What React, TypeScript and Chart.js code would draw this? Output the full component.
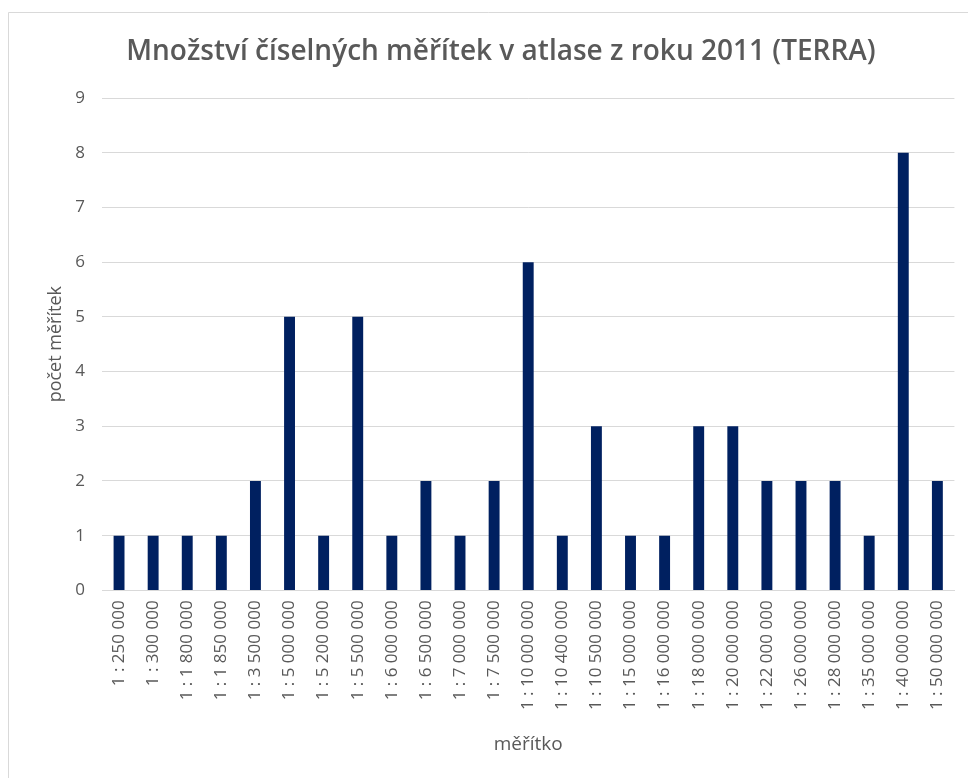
import React, { useEffect, useRef } from "react";
import { Chart, registerables } from "chart.js";

Chart.register(...registerables);

const categories = [
  "1 : 250 000", "1 : 300 000", "1 : 1 800 000", "1 : 1 850 000", "1 : 3 500 000",
  "1 : 5 000 000", "1 : 5 200 000", "1 : 5 500 000", "1 : 6 000 000", "1 : 6 500 000",
  "1 : 7 000 000", "1 : 7 500 000", "1 : 10 000 000", "1 : 10 400 000", "1 : 10 500 000",
  "1 : 15 000 000", "1 : 16 000 000", "1 : 18 000 000", "1 : 20 000 000", "1 : 22 000 000",
  "1 : 26 000 000", "1 : 28 000 000", "1 : 35 000 000", "1 : 40 000 000", "1 : 50 000 000",
];
const counts = [1, 1, 1, 1, 2, 5, 1, 5, 1, 2, 1, 2, 6, 1, 3, 1, 1, 3, 3, 2, 2, 2, 1, 8, 2];

const titleText = "Množství číselných měřítek v atlase z roku 2011 (TERRA)";
const xTitle = "měřítko";
const yTitle = "počet měřítek";

const borderPlugin = {
  id: "frameBorder",
  beforeDraw(chart: any) {
    const ctx = chart.ctx;
    ctx.save();
    ctx.fillStyle = "#ffffff";
    ctx.fillRect(0, 0, chart.width, chart.height);
    ctx.strokeStyle = "#d9d9d9";
    ctx.lineWidth = 1;
    ctx.beginPath();
    ctx.moveTo(8.5, chart.height + 2);
    ctx.lineTo(8.5, 12.5);
    ctx.lineTo(chart.width + 2, 12.5);
    ctx.stroke();
    ctx.restore();
  },
};

export default function App() {
  const ref = useRef<HTMLCanvasElement | null>(null);
  useEffect(() => {
    if (!ref.current) return;
    const chart = new Chart(ref.current, {
      type: "bar",
      data: {
        labels: categories,
        datasets: [
          {
            data: counts,
            backgroundColor: "#002060",
            borderWidth: 0,
            barPercentage: 0.32,
            categoryPercentage: 1,
          },
        ],
      },
      plugins: [borderPlugin],
      options: {
        responsive: false,
        animation: false,
        layout: { padding: { left: 45, right: 11, top: 25, bottom: 21.6 } },
        plugins: {
          legend: { display: false },
          tooltip: { enabled: false },
          title: {
            display: true,
            text: titleText,
            color: "#595959",
            font: { family: "Open Sans", size: 28, weight: "600" as any },
            padding: { top: 10, bottom: 29.4 },
          },
        },
        scales: {
          x: {
            afterFit(scale: any) {
              scale.height = 166;
            },
            grid: { display: false, drawTicks: false },
            border: { display: true, color: "#d9d9d9", width: 1 },
            ticks: {
              color: "#595959",
              font: { family: "Open Sans", size: 17 },
              minRotation: 90,
              maxRotation: 90,
              autoSkip: false,
              padding: 10,
            },
            title: {
              display: true,
              text: xTitle,
              color: "#595959",
              font: { family: "Open Sans", size: 19 },
              padding: 0,
            },
          },
          y: {
            min: 0,
            max: 9,
            afterFit(scale: any) {
              scale.width = 57;
            },
            grid: { color: "#d9d9d9", drawTicks: false },
            border: { display: false },
            ticks: {
              stepSize: 1,
              color: "#595959",
              font: { family: "Open Sans", size: 17 },
              padding: 17,
            },
            title: {
              display: true,
              text: yTitle,
              color: "#595959",
              font: { family: "Open Sans", size: 18 },
              padding: 0,
            },
          },
        },
      },
    });
    return () => chart.destroy();
  }, []);
  return (
    <div style={{ position: "fixed", left: 0, top: 0, width: 968, height: 778, background: "#fff" }}>
      <canvas ref={ref} width={968} height={778} style={{ display: "block" }} />
    </div>
  );
}
